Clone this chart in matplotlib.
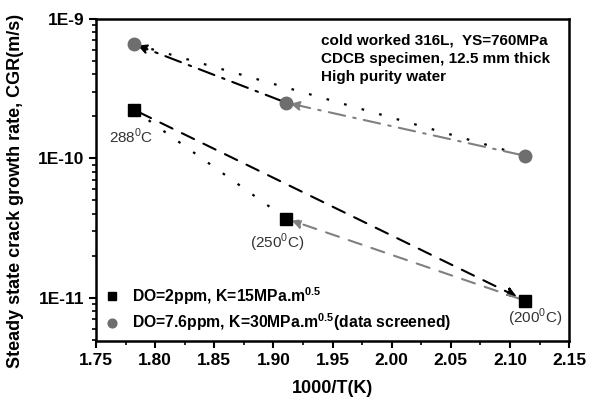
import matplotlib
matplotlib.use("Agg")
import matplotlib.pyplot as plt
from matplotlib.ticker import MultipleLocator, LogLocator, FixedLocator, NullFormatter

plt.rcParams['font.family'] = ['Liberation Sans', 'DejaVu Sans']
plt.rcParams['mathtext.fontset'] = 'custom'
plt.rcParams['mathtext.rm'] = 'Liberation Sans'
plt.rcParams['mathtext.bf'] = 'Liberation Sans:bold'

# data
inv_t = [1.782, 1.911, 2.113]            # 1000/T for 288, 250, 200 C
cgr_do2 = [2.23e-10, 3.68e-11, 9.5e-12]   # DO=2ppm, K=15
cgr_do76 = [6.6e-10, 2.5e-10, 1.04e-10]   # DO=7.6ppm, K=30
temp_labels = ['288$^{\\mathrm{0}}$C', '(250$^{\\mathrm{0}}$C)', '(200$^{\\mathrm{0}}$C)']
label_offsets = [(-3, -27), (-9, -24), (10, -17)]   # pixels from the squares

grey = '#6e6e6e'
lgrey = '#808080'

fig = plt.figure(figsize=(5.96, 4.01), dpi=100)
ax = fig.add_axes([0.161, 0.150, 0.794, 0.803])
ax.set_yscale('log')
ax.set_xlim(1.75, 2.15)
ax.set_ylim(4.9e-12, 1e-9)

dot = (0, (1.2, 7))
dash = (0, (6.5, 5))
dashdot = (0, (8, 4, 1.2, 4))


def arrow(p0, p1, color, ls, shrink=6):
    # line from p0 to p1 with a filled head at p1
    ax.annotate('', xy=p1, xytext=p0,
                arrowprops=dict(arrowstyle='-|>,head_length=0.55,head_width=0.28',
                                color=color, lw=1.5, linestyle=ls,
                                shrinkA=4, shrinkB=shrink))


x0, x1, x2 = inv_t
# DO = 2 ppm
ax.plot([x0, x1], [cgr_do2[0], cgr_do2[1]], color='black', lw=1.6, ls=dot, zorder=2)
arrow((x0, cgr_do2[0]), (x2, cgr_do2[2]), 'black', dash, shrink=7)
arrow((x2, cgr_do2[2]), (x1, cgr_do2[1]), lgrey, dash, shrink=4)
# DO = 7.6 ppm
ax.plot([x0, x2], [cgr_do76[0], cgr_do76[2]], color='black', lw=1.6, ls=dot, zorder=2)
arrow((x1, cgr_do76[1]), (x0, cgr_do76[0]), 'black', dashdot, shrink=3)
arrow((x2, cgr_do76[2]), (x1, cgr_do76[1]), lgrey, dashdot, shrink=3)

ax.plot(inv_t, cgr_do2, ls='none', marker='s', ms=8, color='black', zorder=3,
        label='DO=2ppm, K=15MPa.m$^{\\mathbf{0.5}}$')
ax.plot(inv_t, cgr_do76, ls='none', marker='o', ms=9, color=grey, zorder=3,
        label='DO=7.6ppm, K=30MPa.m$^{\\mathbf{0.5}}$(data screened)')

for xv, yv, lab, off in zip(inv_t, cgr_do2, temp_labels, label_offsets):
    ax.annotate(lab, xy=(xv, yv), xytext=off, textcoords='offset pixels',
                ha='center', va='center', fontsize=11, color='#333333')

ax.text(0.475, 0.955, 'cold worked 316L,  YS=760MPa\nCDCB specimen, 12.5 mm thick\nHigh purity water',
        transform=ax.transAxes, ha='left', va='top', fontsize=11,
        fontweight='bold', linespacing=1.4)

leg = ax.legend(loc='lower left', frameon=False, borderaxespad=0.1,
                prop={'weight': 'bold', 'size': 11.3}, handletextpad=0.8,
                markerscale=0.7, labelspacing=0.3, handlelength=1.0)

ax.set_xlabel('1000/T(K)', fontsize=13, fontweight='bold', labelpad=9)
ax.set_ylabel('Steady state crack growth rate, CGR(m/s)', fontsize=13,
              fontweight='bold')
ax.yaxis.set_label_coords(-0.152, 0.466)

ax.xaxis.set_major_locator(MultipleLocator(0.05))
ax.xaxis.set_minor_locator(MultipleLocator(0.025))
ax.xaxis.set_major_formatter(plt.FuncFormatter(lambda v, p: f'{v:.2f}'))
ax.yaxis.set_major_locator(FixedLocator([1e-11, 1e-10, 1e-9]))
ax.yaxis.set_major_formatter(plt.FuncFormatter(lambda v, p: {1e-11: '1E-11', 1e-10: '1E-10', 1e-9: '1E-9'}.get(v, '')))
ax.yaxis.set_minor_locator(LogLocator(base=10, subs=range(2, 10)))
ax.yaxis.set_minor_formatter(NullFormatter())

ax.tick_params(which='major', direction='out', length=5, width=1.5, labelsize=12.5)
ax.tick_params(which='minor', direction='out', length=3, width=1.2)
ax.tick_params(top=False, right=False, which='both')
for lab in ax.get_xticklabels() + ax.get_yticklabels():
    lab.set_fontweight('bold')
for sp in ax.spines.values():
    sp.set_linewidth(1.8)

fig.savefig('out.png', dpi=100)
